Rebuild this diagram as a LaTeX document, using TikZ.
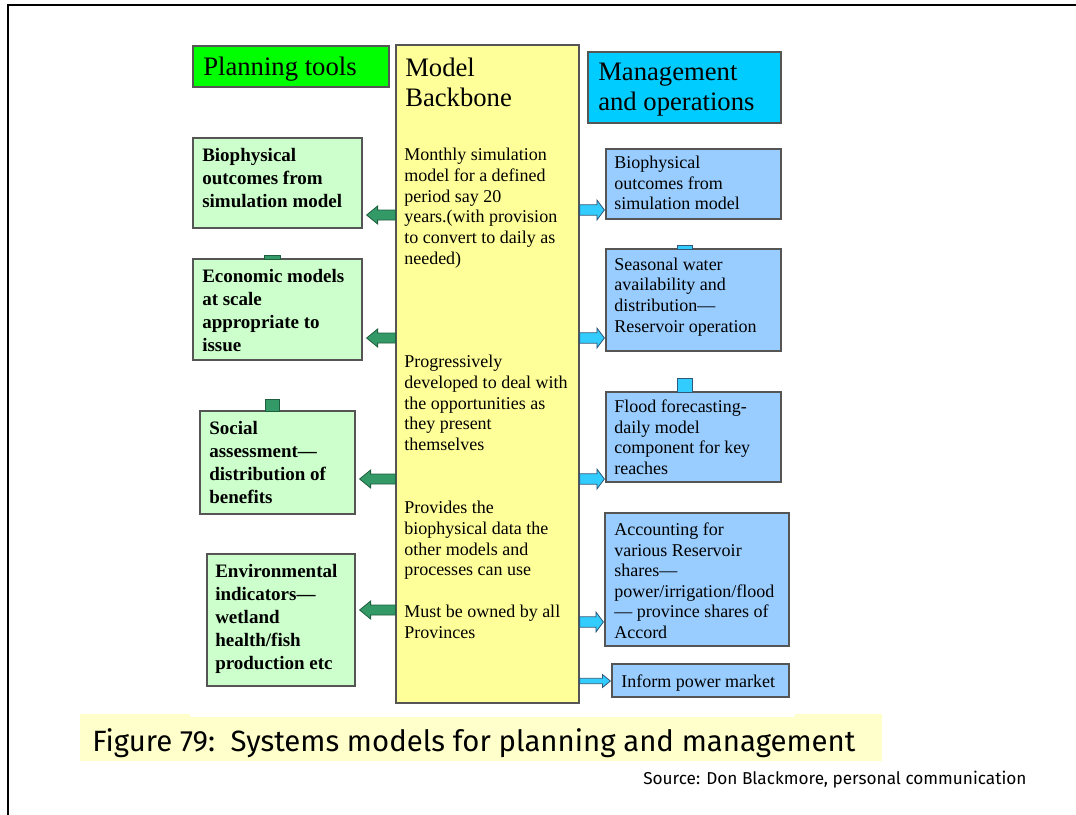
\documentclass[tikz,border=0pt]{standalone}
\usepackage{fontspec}
\setmainfont{Liberation Serif}
\newfontfamily\capfont{Fira Sans}
\usetikzlibrary{fit,calc}
\definecolor{pgreen}{HTML}{00FF00}
\definecolor{lgreen}{HTML}{CCFFCC}
\definecolor{byellow}{HTML}{FFFF99}
\definecolor{mcyan}{HTML}{00CCFF}
\definecolor{lblue}{HTML}{99CCFF}
\definecolor{garr}{HTML}{339966}
\definecolor{garrline}{HTML}{1F5F3F}
\definecolor{carr}{HTML}{33CCFF}
\definecolor{carrline}{HTML}{305878}
\definecolor{capbg}{HTML}{FFFFCC}
\definecolor{edge}{HTML}{555555}
\newcommand\myHdr{\fontsize{20pt}{22.1pt}\selectfont}
\newcommand\myBold{\fontsize{14.25pt}{17.25pt}\selectfont\bfseries}
\newcommand\myReg{\fontsize{13.5pt}{15.4pt}\selectfont}
\newcommand\myBB{\fontsize{13.5pt}{15.6pt}\selectfont}
% left block arrow: #1 from node, #2 to node, #3 y (px)
\newcommand\leftarr[3]{%
  \path[garrst] let \p1=(#1.west), \p2=(#2.east), \p3=(0,#3) in
   (\x1,\y3+3.75pt) -- (\x2+11.25pt,\y3+3.75pt) -- (\x2+11.25pt,\y3+6.75pt) --
   (\x2+3pt,\y3) -- (\x2+11.25pt,\y3-6.75pt) -- (\x2+11.25pt,\y3-3.75pt) --
   (\x1,\y3-3.75pt) -- cycle;}
% right block arrow: #1 from node, #2 to node, #3 y (px), #4 shaft half, #5 head half, #6 head length
\newcommand\rightarr[6]{%
  \path[carrst] let \p1=(#1.east), \p2=(#2.west), \p3=(0,#3) in
   (\x1,\y3+#4) -- (\x2-0.75pt-#6,\y3+#4) -- (\x2-0.75pt-#6,\y3+#5) --
   (\x2-0.75pt,\y3) -- (\x2-0.75pt-#6,\y3-#5) -- (\x2-0.75pt-#6,\y3-#4) --
   (\x1,\y3-#4) -- cycle;}
\tikzset{
  boxst/.style={draw=edge, line width=0.9pt, inner sep=0pt, rectangle},
  lbox/.style={boxst, fill=lgreen},
  rbox/.style={boxst, fill=lblue},
  txt/.style={inner sep=0pt, anchor=north west, align=left, text=black},
  garrst/.style={fill=garr, draw=garrline, line width=0.6pt},
  carrst/.style={fill=carr, draw=carrline, line width=0.6pt},
  gsq/.style={fill=garr, draw=garrline, line width=0.6pt},
  csq/.style={fill=carr, draw=carrline, line width=0.6pt},
}
\begin{document}
\begin{tikzpicture}[x=0.75pt,y=-0.75pt]
\useasboundingbox (0,0) rectangle (1076,815);
% frame lines
\draw[line width=1.5pt] (8,815) -- (8,5) -- (1076,5);

% headers
\node[boxst, fill=pgreen, fit={(193,46) (389,87)}] (hdrL) {};
\node[txt, font=\myHdr] at (203,56.8) {Planning tools};
\node[boxst, fill=mcyan, fit={(588,52) (781,123)}] (hdrR) {};
\node[txt, font=\myHdr] at (598,63) {Management\\and operations};

% backbone
\node[boxst, fill=byellow, fit={(396,45) (579,703)}] (bb) {};
\node[txt, font=\myHdr] at (405,57.8) {Model\\Backbone};
\node[txt, font=\myBB] at (404,147.7) {Monthly simulation\\model for a defined\\period say 20\\years.(with provision\\to convert to daily as\\needed)};
\node[txt, font=\myBB] at (404,354.7) {Progressively\\developed to deal with\\the opportunities as\\they present\\themselves};
\node[txt, font=\myBB] at (404,500.7) {Provides the\\biophysical data the\\other models and\\processes can use};
\node[txt, font=\myBB] at (404,604.7) {Must be owned by all\\Provinces};

% left boxes
\node[lbox, fit={(193,138) (362,228)}] (L1) {};
\node[txt, font=\myBold] at (202,147.7) {Biophysical\\outcomes from\\simulation model};
\node[lbox, fit={(193,259) (362,360)}] (L2) {};
\node[txt, font=\myBold] at (202,269) {Economic models\\at scale\\appropriate to\\issue};
\node[lbox, fit={(200,411) (355,514)}] (L3) {};
\node[txt, font=\myBold] at (209,421) {Social\\assessment—\\distribution of\\benefits};
\node[lbox, fit={(207,554) (355,686)}] (L4) {};
\node[txt, font=\myBold] at (215,564) {Environmental\\indicators—\\wetland\\health/fish\\production etc};

% right boxes
\node[rbox, fit={(606,149) (781,219)}] (R1) {};
\node[txt, font=\myReg] at (614,156) {Biophysical\\outcomes from\\simulation model};
\node[rbox, fit={(606,249) (781,351)}] (R2) {};
\node[txt, font=\myReg] at (614,257.7) {Seasonal water\\availability and\\distribution—\\Reservoir operation};
\node[rbox, fit={(606,392) (781,482)}] (R3) {};
\node[txt, font=\myReg] at (614,399.7) {Flood forecasting-\\daily model\\component for key\\reaches};
\node[rbox, fit={(605,513) (789,646)}] (R4) {};
\node[txt, font=\myReg] at (614,522.7) {Accounting for\\various Reservoir\\shares—\\power/irrigation/flood\\— province shares of\\Accord};
\node[rbox, fit={(612,664) (789,697)}] (R5) {};
\node[txt, font=\myReg] at (621,674.4) {Inform power market};

% small squares
\draw[gsq] (264,255) rectangle (280,259);
\draw[gsq] (265,399) rectangle (279,411);
\draw[csq] (677,245) rectangle (692,249);
\draw[csq] (677,378) rectangle (692,392);

% arrows to the left
\leftarr{bb}{L1}{215}
\leftarr{bb}{L2}{338}
\leftarr{bb}{L3}{479}
\leftarr{bb}{L4}{610}
% arrows to the right
\rightarr{bb}{R1}{210}{3.9pt}{7.5pt}{5.6pt}
\rightarr{bb}{R2}{338}{3.9pt}{7.5pt}{5.6pt}
\rightarr{bb}{R3}{479}{3.9pt}{7.5pt}{5.6pt}
\rightarr{bb}{R4}{622}{3.9pt}{7.5pt}{5.6pt}
\rightarr{bb}{R5}{681}{2pt}{4.9pt}{6pt}

% caption
\fill[capbg] (80,714) -- (190,714) -- (190,717) -- (795,717) -- (795,714) -- (882,714) -- (882,761) -- (80,761) -- cycle;
\node[anchor=base west, inner sep=0pt, font={\capfont\fontsize{22pt}{26pt}\selectfont}] (cap) at (92,751) {Figure 79:\ \ Systems models for planning and management};
\node[anchor=base west, inner sep=0pt, font={\capfont\fontsize{12.9pt}{15pt}\selectfont}] (src) at (643,784) {Source: Don Blackmore, personal communication};
\end{tikzpicture}
\end{document}
